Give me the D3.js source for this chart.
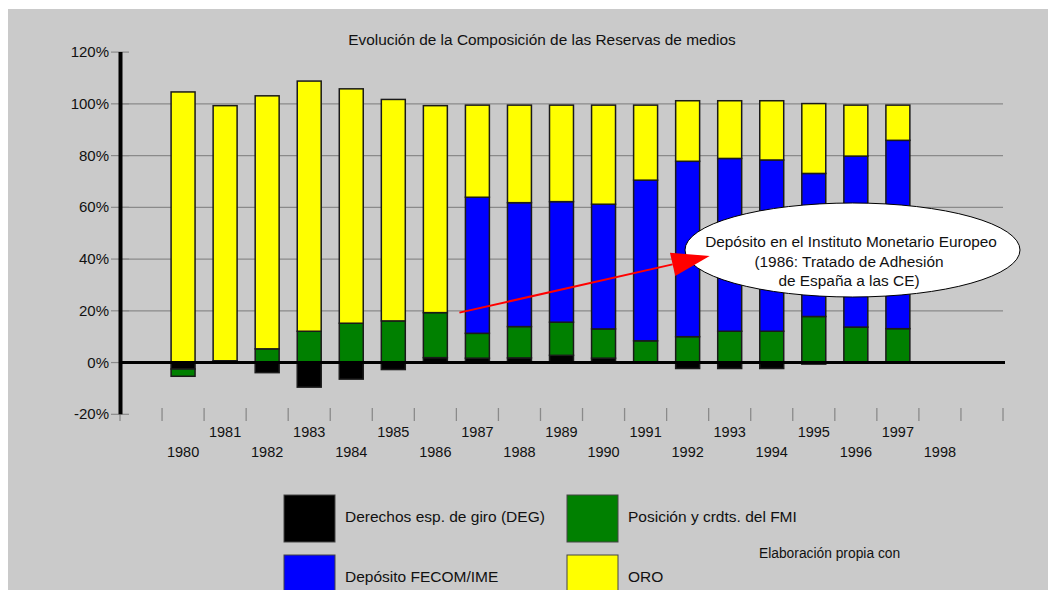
<!DOCTYPE html>
<html>
<head>
<meta charset="utf-8">
<script src="https://cdn.jsdelivr.net/npm/d3@7"></script>
<style>
  html, body { margin: 0; padding: 0; background: #ffffff; }
  svg { display: block; font-family: "Liberation Sans", Arial, sans-serif; }
</style>
</head>
<body>
<svg id="chart" width="1048" height="590"></svg>
<script>
// Composition of reserves, share of total (%), 1980-1998
const years = [1980, 1981, 1982, 1983, 1984, 1985, 1986, 1987, 1988, 1989,
               1990, 1991, 1992, 1993, 1994, 1995, 1996, 1997, 1998];
const deg   = [-2.5, 0, -3.9, -9.5, -6.4, -2.7, 1.9, 1.7, 1.8, 2.8,
               1.7, 0, -2.3, -2.3, -2.3, -0.6, 0, 0, 0];
const fmi   = [-2.8, 0.7, 5.3, 12.1, 15.2, 16.1, 17.4, 9.6, 12.1, 12.8,
               11.3, 8.4, 10.0, 12.1, 12.1, 17.8, 13.7, 13.1, 0];
const fecom = [0, 0, 0, 0, 0, 0, 0, 52.6, 47.9, 46.6,
               48.2, 62.1, 67.8, 66.8, 66.2, 55.3, 66.1, 72.8, 0];
const oro   = [104.6, 98.6, 97.8, 96.7, 90.6, 85.6, 80.0, 35.6, 37.7, 37.3,
               38.3, 29.0, 23.4, 22.3, 22.9, 27.0, 19.7, 13.6, 0];

const yTicks = [-20, 0, 20, 40, 60, 80, 100, 120];

const seriesNames = {
  deg: "Derechos esp. de giro (DEG)",
  fmi: "Posición y crdts. del FMI",
  fecom: "Depósito FECOM/IME",
  oro: "ORO"
};
const seriesColors = { deg: "#000000", fmi: "#008000", fecom: "#0000ff", oro: "#ffff00" };

const titleText = "Evolución de la Composición de las Reservas de medios";
const noteText = "Elaboración propia con";
const calloutLines = ["Depósito en el Instituto Monetario Europeo",
                      "(1986: Tratado de Adhesión",
                      "de España a las CE)"];

// rows for the stack
const keys = ["deg", "fmi", "fecom", "oro"];
const rows = years.map((yr, i) => ({ year: yr, deg: deg[i], fmi: fmi[i], fecom: fecom[i], oro: oro[i] }));

const svg = d3.select("#chart");
const bg = "#cacaca";
const gridColor = "#8a8a8a";

svg.append("rect").attr("x", 8).attr("y", 9).attr("width", 1040).attr("height", 581).attr("fill", bg);

const plotLeft = 120, plotRight = 1003;
const x = d3.scaleBand().domain(years).range([plotLeft, plotRight]).paddingInner(0).paddingOuter(1);
const y = d3.scaleLinear().domain([-20, 120]).range([414.3, 52.1]);
const barW = x.step() * 0.57;

// title
svg.append("text").attr("x", 542).attr("y", 45).attr("text-anchor", "middle")
  .attr("font-size", 15.4).attr("fill", "#111").text(titleText);

// gridlines
svg.append("g").selectAll("line").data(yTicks.filter(t => t > 0 && t < 120)).join("line")
  .attr("x1", plotLeft).attr("x2", plotRight)
  .attr("y1", d => y(d)).attr("y2", d => y(d))
  .attr("stroke", gridColor).attr("stroke-width", 1.2);

// y tick marks and labels
const yAxisG = svg.append("g");
yAxisG.selectAll("line").data(yTicks).join("line")
  .attr("x1", 111).attr("x2", 129)
  .attr("y1", d => y(d)).attr("y2", d => y(d))
  .attr("stroke", gridColor).attr("stroke-width", 1.2);
yAxisG.selectAll("text").data(yTicks).join("text")
  .attr("x", 109).attr("y", d => y(d) + 5).attr("text-anchor", "end")
  .attr("font-size", 15).attr("fill", "#111").text(d => d + "%");

// stacked bars
const stack = d3.stack().keys(keys).offset(d3.stackOffsetDiverging);
const layers = stack(rows);
svg.append("g").selectAll("g").data(layers).join("g")
  .attr("fill", d => seriesColors[d.key])
  .selectAll("rect").data(d => d.filter(s => Math.abs(s[1] - s[0]) > 1e-9)).join("rect")
  .attr("x", d => x(d.data.year) + (x.step() - barW) / 2)
  .attr("width", barW)
  .attr("y", d => y(Math.max(d[0], d[1])))
  .attr("height", d => Math.abs(y(d[0]) - y(d[1])))
  .attr("stroke", "#1a1a1a").attr("stroke-width", 1.5);

// zero line
svg.append("line").attr("x1", plotLeft).attr("x2", plotRight + 2)
  .attr("y1", y(0)).attr("y2", y(0)).attr("stroke", "#000").attr("stroke-width", 3);

// category ticks along the bottom
const nBounds = years.length + 2;
const bounds = d3.range(nBounds + 1).map(i => x.range()[0] + i * x.step());
svg.append("g").selectAll("line").data(bounds).join("line")
  .attr("x1", d => d).attr("x2", d => d)
  .attr("y1", 408).attr("y2", 421)
  .attr("stroke", gridColor).attr("stroke-width", 1.3);

// y axis line
svg.append("line").attr("x1", 120.5).attr("x2", 120.5)
  .attr("y1", y(120)).attr("y2", y(-20)).attr("stroke", "#000").attr("stroke-width", 4);

// year labels in two staggered rows
svg.append("g").selectAll("text").data(years).join("text")
  .attr("x", d => x(d) + x.step() / 2)
  .attr("y", (d, i) => i % 2 === 1 ? 437 : 457)
  .attr("text-anchor", "middle").attr("font-size", 14.5).attr("fill", "#111")
  .text(d => d);

// callout
const callout = svg.append("g");
callout.append("ellipse").attr("cx", 852.5).attr("cy", 250).attr("rx", 167.5).attr("ry", 47)
  .attr("fill", "#ffffff").attr("stroke", "#000").attr("stroke-width", 1);
callout.selectAll("text").data(calloutLines).join("text")
  .attr("x", (d, i) => i === 0 ? 851 : 849).attr("y", (d, i) => 247 + i * 19.5)
  .attr("text-anchor", "middle").attr("font-size", 15.4).attr("fill", "#111")
  .text(d => d);

// arrow from 1986 towards the callout
const ax0 = x(1987) + 3, ay0 = y(19.3);
const ax1 = x(1993) + 1, ay1 = y(41.2);
const ang = Math.atan2(ay1 - ay0, ax1 - ax0);
const headL = 38, headW = 12;
const bx = ax1 - headL * Math.cos(ang), by = ay1 - headL * Math.sin(ang);
svg.append("line").attr("x1", ax0).attr("y1", ay0).attr("x2", bx).attr("y2", by)
  .attr("stroke", "#ff0000").attr("stroke-width", 2);
svg.append("polygon")
  .attr("points", [
    [ax1, ay1],
    [bx + headW * Math.sin(ang), by - headW * Math.cos(ang)],
    [bx - headW * Math.sin(ang), by + headW * Math.cos(ang)]
  ].map(p => p.join(",")).join(" "))
  .attr("fill", "#ff0000");

// legend
const legendItems = [
  { key: "deg", bx: 284, by: 495 },
  { key: "fmi", bx: 567, by: 495 },
  { key: "fecom", bx: 284, by: 555 },
  { key: "oro", bx: 567, by: 555 }
];
const lg = svg.append("g").selectAll("g").data(legendItems).join("g");
lg.append("rect").attr("x", d => d.bx).attr("y", d => d.by).attr("width", 51).attr("height", 47)
  .attr("fill", d => seriesColors[d.key]).attr("stroke", "#444").attr("stroke-width", 1);
lg.append("text").attr("x", d => d.bx + 61).attr("y", d => d.by + 27)
  .attr("font-size", 15.5).attr("fill", "#111").text(d => seriesNames[d.key]);

svg.append("text").attr("x", 759).attr("y", 558).attr("font-size", 13.8).attr("fill", "#111").text(noteText);
</script>
</body>
</html>
